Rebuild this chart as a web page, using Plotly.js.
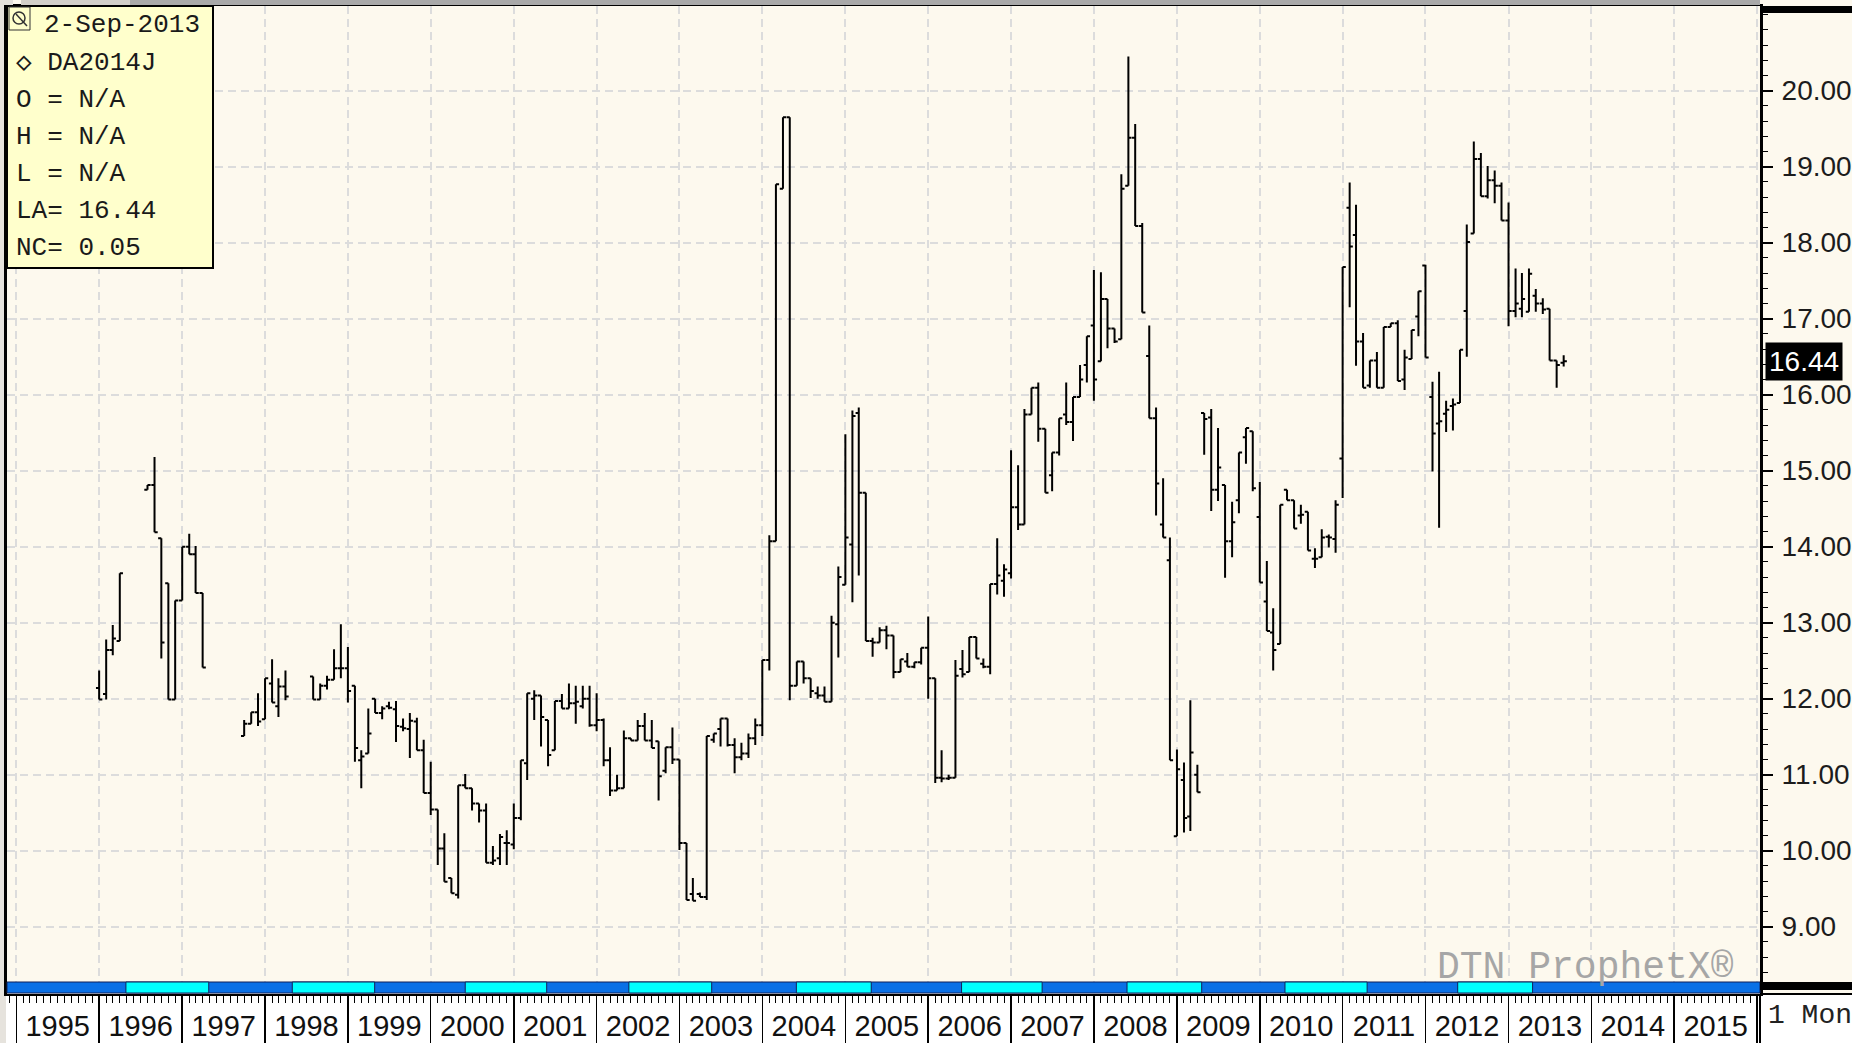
<!DOCTYPE html>
<html><head><meta charset="utf-8">
<script src="https://cdn.plot.ly/plotly-3.0.1.min.js"></script>
<style>html,body{margin:0;padding:0;background:#fff;overflow:hidden}#chart{width:1852px;height:1043px}</style>
</head><body><div id="chart"></div>
<script>
// ---- data (monthly OHLC, DA2014J continuation) ----
const months = [
 '1996-01','1996-02','1996-03','1996-04','1996-08','1996-09','1996-10','1996-11','1996-12',
 '1997-01','1997-02','1997-03','1997-04','1997-10','1997-11','1997-12',
 '1998-01','1998-02','1998-03','1998-04','1998-08','1998-09','1998-10','1998-11','1998-12',
 '1999-01','1999-02','1999-03','1999-04','1999-05','1999-06','1999-07','1999-08','1999-09','1999-10','1999-11','1999-12',
 '2000-01','2000-02','2000-03','2000-04','2000-05','2000-06','2000-07','2000-08','2000-09','2000-10','2000-11','2000-12',
 '2001-01','2001-02','2001-03','2001-04','2001-05','2001-06','2001-07','2001-08','2001-09','2001-10','2001-11','2001-12',
 '2002-01','2002-02','2002-03','2002-04','2002-05','2002-06','2002-07','2002-08','2002-09','2002-10','2002-11','2002-12',
 '2003-01','2003-02','2003-03','2003-04','2003-05','2003-06','2003-07','2003-08','2003-09','2003-10','2003-11','2003-12',
 '2004-01','2004-02','2004-03','2004-04','2004-05','2004-06','2004-07','2004-08','2004-09','2004-10','2004-11','2004-12',
 '2005-01','2005-02','2005-03','2005-04','2005-05','2005-06','2005-07','2005-08','2005-09','2005-10','2005-11','2005-12',
 '2006-01','2006-02','2006-03','2006-04','2006-05','2006-06','2006-07','2006-08','2006-09','2006-10','2006-11','2006-12',
 '2007-01','2007-02','2007-03','2007-04','2007-05','2007-06','2007-07','2007-08','2007-09','2007-10','2007-11','2007-12',
 '2008-01','2008-02','2008-03','2008-04','2008-05','2008-06','2008-07','2008-08','2008-09','2008-10','2008-11','2008-12',
 '2009-01','2009-02','2009-03','2009-04','2009-05','2009-06','2009-07','2009-08','2009-09','2009-10','2009-11','2009-12',
 '2010-01','2010-02','2010-03','2010-04','2010-05','2010-06','2010-07','2010-08','2010-09','2010-10','2010-11','2010-12',
 '2011-01','2011-02','2011-03','2011-04','2011-05','2011-06','2011-07','2011-08','2011-09','2011-10','2011-11','2011-12',
 '2012-01','2012-02','2012-03','2012-04','2012-05','2012-06','2012-07','2012-08','2012-09','2012-10','2012-11','2012-12',
 '2013-01','2013-02','2013-03','2013-04','2013-05','2013-06','2013-07','2013-08','2013-09'
];
const openVals = [
 12.14,12.06,12.64,12.76,14.75,14.81,14.11,13.52,11.99,
 13.29,14.0,13.9,13.39,11.51,11.67,11.82,
 11.73,12.2,11.9,12.16,12.29,11.99,12.17,12.25,12.4,
 12.4,12.17,11.19,11.28,12.0,11.81,11.9,11.86,11.63,11.6,11.7,11.32,
 10.76,10.54,10.03,9.64,9.42,10.86,10.82,10.62,10.53,9.84,9.9,10.1,
 10.08,10.43,11.15,12.0,12.04,11.72,11.32,11.97,11.87,11.94,11.9,12.0,
 11.65,11.72,11.19,10.79,10.82,11.48,11.45,11.64,11.45,11.44,11.05,11.36,
 11.2,10.1,9.43,9.43,9.39,11.46,11.6,11.74,11.39,11.23,11.28,11.48,
 11.65,12.51,14.07,18.71,19.65,12.17,12.49,12.27,12.07,12.04,11.96,12.98,
 13.5,14.03,15.76,14.71,12.76,12.74,12.9,12.83,12.35,12.49,12.42,12.48,
 12.67,12.27,10.96,10.95,10.96,12.39,12.35,12.81,12.46,12.42,13.51,13.55,
 13.65,14.52,14.29,15.74,16.09,15.55,14.94,15.24,15.74,15.64,15.97,16.39,
 16.91,16.44,17.26,16.87,16.73,18.75,19.38,18.22,16.51,15.69,14.29,13.82,
 10.19,10.93,10.45,11.0,15.76,15.7,14.75,14.81,14.07,14.61,15.44,15.52,
 14.39,13.28,12.87,12.72,14.75,14.61,14.41,14.46,13.84,13.86,14.13,14.1,
 15.16,18.46,18.1,16.7,16.12,16.45,16.09,16.89,16.94,16.2,16.47,17.03,
 17.7,15.97,15.62,15.75,15.85,15.89,17.1,18.12,19.1,18.61,18.82,18.75,
 18.29,17.1,17.13,17.09,17.3,17.2,17.13,16.45,16.42
];
const highVals = [
 12.37,12.78,12.97,13.65,14.81,15.18,14.11,13.52,13.29,
 14.0,14.17,14.01,13.39,11.72,11.82,12.07,
 12.27,12.52,12.27,12.37,12.29,12.2,12.3,12.65,12.98,
 12.68,12.17,11.32,11.87,12.0,11.9,11.96,11.97,11.74,11.81,11.75,11.46,
 11.17,10.54,10.23,9.64,10.86,11.01,10.82,10.62,10.62,10.06,10.22,10.27,
 10.62,11.19,12.07,12.11,12.04,11.72,11.97,12.06,12.2,12.17,12.17,12.17,
 12.07,11.74,11.36,11.0,11.58,11.48,11.72,11.81,11.72,11.44,11.36,11.62,
 11.2,10.1,9.64,9.45,11.51,11.54,11.74,11.74,11.48,11.42,11.54,11.74,
 12.51,14.15,18.77,19.65,19.65,12.49,12.49,12.27,12.16,12.16,13.09,13.74,
 15.48,15.79,15.83,14.71,12.8,12.94,12.96,12.83,12.52,12.6,12.48,12.67,
 13.08,12.27,11.32,11.0,12.51,12.64,12.81,12.81,12.53,13.51,14.11,13.77,
 15.27,15.07,15.81,16.09,16.16,15.55,15.24,15.69,16.16,15.97,16.39,16.77,
 17.64,17.61,17.26,16.87,18.9,20.45,19.56,18.26,16.91,15.83,14.9,14.12,
 11.33,11.16,11.98,11.13,15.76,15.81,15.56,14.81,14.59,15.24,15.56,15.52,
 14.85,13.81,13.19,14.55,14.75,14.61,14.55,14.46,13.98,14.23,14.16,14.61,
 17.68,18.79,18.5,16.81,16.45,16.56,16.89,16.94,16.98,16.59,16.85,17.36,
 17.71,16.17,16.3,15.92,15.95,16.59,18.24,19.33,19.18,19.01,18.95,18.79,
 18.53,17.66,17.6,17.66,17.39,17.27,17.13,16.45,16.52
];
const lowVals = [
 11.99,11.99,12.57,12.76,14.75,14.19,12.53,11.99,11.99,
 13.29,13.9,13.39,12.41,11.51,11.67,11.64,
 11.73,11.95,11.76,11.98,11.99,11.99,12.12,12.25,12.27,
 11.95,11.17,10.82,11.28,11.81,11.73,11.86,11.43,11.57,11.22,11.32,10.76,
 10.47,9.81,9.59,9.44,9.37,10.82,10.53,10.37,9.84,9.81,9.81,9.81,
 10.02,10.4,10.93,11.72,11.37,11.11,11.32,11.87,11.87,11.67,11.87,11.63,
 11.57,11.11,10.72,10.79,10.82,11.45,11.45,11.45,11.35,10.66,11.02,11.14,
 10.01,9.35,9.34,9.39,9.35,11.42,11.37,11.37,11.02,11.19,11.22,11.39,
 11.51,12.37,14.07,18.71,11.98,12.17,12.2,12.01,12.0,11.96,11.96,12.54,
 13.5,13.27,13.62,12.76,12.55,12.74,12.65,12.27,12.35,12.42,12.4,12.45,
 12.0,10.89,10.9,10.93,10.96,12.28,12.35,12.53,12.4,12.32,13.37,13.34,
 13.58,14.22,14.29,15.74,15.38,14.71,14.73,15.2,15.6,15.39,15.97,16.16,
 15.92,16.44,16.61,16.68,16.73,18.75,18.22,17.08,15.69,14.41,14.12,11.19,
 10.19,10.24,10.26,10.77,15.21,14.47,14.6,13.59,13.86,14.44,15.09,14.73,
 13.53,12.89,12.37,12.72,14.61,14.24,14.3,13.95,13.72,13.86,13.99,13.92,
 14.64,17.15,16.38,16.09,16.09,16.09,16.09,16.89,16.18,16.06,16.47,16.77,
 16.49,14.99,14.25,15.51,15.53,15.89,16.5,18.12,18.61,18.58,18.52,18.29,
 16.9,17.02,17.02,17.09,17.09,17.06,16.45,16.09,16.37
];
const closeVals = [
 11.99,12.64,12.79,13.65,14.81,14.19,12.74,11.99,13.29,
 14.0,13.9,13.39,12.41,11.67,11.82,11.7,
 12.27,11.95,12.16,12.03,11.99,12.17,12.25,12.4,12.4,
 12.1,11.35,11.24,11.54,11.81,11.87,11.88,11.64,11.61,11.71,11.32,10.76,
 10.54,10.03,9.59,9.44,10.86,10.82,10.62,10.53,9.84,9.87,10.18,10.1,
 10.43,11.19,12.07,12.04,11.76,11.26,11.97,11.87,11.94,11.96,12.0,11.65,
 11.72,11.19,10.79,10.82,11.48,11.45,11.64,11.45,11.35,10.98,11.36,11.2,
 10.1,9.35,9.34,9.39,11.51,11.54,11.74,11.39,11.23,11.28,11.48,11.65,
 12.51,14.07,18.77,19.65,12.17,12.49,12.27,12.1,12.04,11.96,13.0,13.6,
 14.12,15.72,14.71,12.76,12.74,12.9,12.83,12.35,12.52,12.42,12.48,12.67,
 12.27,10.96,10.95,10.96,12.3,12.32,12.81,12.53,12.42,13.51,13.62,13.7,
 14.52,14.29,15.74,16.09,15.55,14.71,15.24,15.69,15.64,15.97,16.2,16.77,
 16.2,17.26,16.87,16.7,18.71,19.38,18.22,17.08,15.69,14.83,14.12,11.19,
 11.07,10.43,11.29,10.77,15.68,14.75,15.04,14.07,14.32,15.24,15.56,14.77,
 13.53,12.89,12.64,14.55,14.61,14.24,14.42,13.95,13.84,14.12,14.12,14.55,
 17.68,17.95,16.7,16.09,16.45,16.09,16.89,16.94,16.18,16.49,16.85,17.36,
 16.49,15.49,15.65,15.8,15.87,16.59,18.01,19.1,18.61,18.82,18.75,18.29,
 17.1,17.2,17.26,17.59,17.2,17.12,16.45,16.39,16.44
];
const priceTicks = [9,10,11,12,13,14,15,16,17,18,19,20];
const contractBandStart = ['1996-04-28','1998-05-01','2000-06-01','2002-05-23','2004-05-30','2006-05-28','2008-05-26','2010-04-22','2012-05-22'];
const contractBandEnd   = ['1997-04-28','1999-04-29','2001-05-26','2003-05-23','2005-04-25','2007-05-18','2009-04-20','2011-04-19','2013-04-17'];
const quoteDate = '2-Sep-2013';
const symbol = 'DA2014J';
const periodLabel = '1 Mon';
const watermark = 'DTN ProphetX\u00AE';

// ---- geometry helpers (pixel layout of the frame) ----
const W = 1852, H = 1043, ML = 7, MR = 92, MT = 6, MB = 49;
const PW = W - ML - MR, PH = H - MT - MB;
const px = x => (x - ML) / PW;          // page px -> paper x
const py = y => (H - MB - y) / PH;      // page px -> paper y

const xDates = months.map(m => m + '-01');
const n = closeVals.length;
const last = closeVals[n - 1], prev = closeVals[n - 2];

const mono = 'Liberation Mono, Courier New, monospace';
const sans = 'Liberation Sans, Arial, sans-serif';

const trace = {
  type: 'ohlc', x: xDates, open: openVals, high: highVals, low: lowVals, close: closeVals,
  increasing: {line: {color: '#000', width: 2}},
  decreasing: {line: {color: '#000', width: 2}},
  tickwidth: 0.5, hoverinfo: 'skip', showlegend: false
};

const shapes = [];
// white label strip below the plot
shapes.push({type:'rect', xref:'paper', yref:'paper', x0:px(0), x1:px(W), y0:py(H), y1:py(994), fillcolor:'#ffffff', line:{width:0}, layer:'below'});
// left window border
shapes.push({type:'rect', xref:'paper', yref:'paper', x0:px(0), x1:px(6), y0:py(H), y1:py(0), fillcolor:'#e6e3dd', line:{width:0}, layer:'below'});
// top strip
shapes.push({type:'rect', xref:'paper', yref:'paper', x0:px(0), x1:px(13), y0:py(5), y1:py(0), fillcolor:'#e3e0da', line:{width:0}});
shapes.push({type:'rect', xref:'paper', yref:'paper', x0:px(21), x1:px(130), y0:py(5), y1:py(0), fillcolor:'#d2cfc9', line:{width:0}});
shapes.push({type:'rect', xref:'paper', yref:'paper', x0:px(130), x1:px(1760), y0:py(5), y1:py(0), fillcolor:'#a9a9a9', line:{width:0}});
// right panel top black bar
shapes.push({type:'rect', xref:'paper', yref:'paper', x0:px(1760), x1:px(W), y0:py(13), y1:py(6), fillcolor:'#000', line:{width:0}});
// blue/cyan contract band
shapes.push({type:'rect', xref:'paper', yref:'paper', x0:0, x1:1, y0:py(993), y1:py(982), fillcolor:'#0a70e6', line:{color:'#10205a', width:1}, layer:'above'});
for (let i = 0; i < contractBandStart.length; i++) {
  shapes.push({type:'rect', xref:'x', yref:'paper', x0:contractBandStart[i], x1:contractBandEnd[i], y0:py(993), y1:py(982), fillcolor:'#00ffff', line:{color:'#10205a', width:1}, layer:'above'});
}
// right of band: black bars
shapes.push({type:'rect', xref:'paper', yref:'paper', x0:px(1760), x1:px(W), y0:py(990), y1:py(982), fillcolor:'#000', line:{width:0}});
shapes.push({type:'rect', xref:'paper', yref:'paper', x0:px(1760), x1:px(W), y0:py(995), y1:py(993), fillcolor:'#000', line:{width:0}});
// separator below right axis
shapes.push({type:'line', xref:'paper', yref:'paper', x0:1, x1:1, y0:py(H), y1:0, line:{color:'#000', width:2}});
// info box
shapes.push({type:'rect', xref:'paper', yref:'paper', x0:px(7), x1:px(213), y0:py(268), y1:py(6), fillcolor:'#ffffcc', line:{color:'#000', width:2}, layer:'above'});
// zoom icon
shapes.push({type:'rect', xref:'paper', yref:'paper', x0:px(9), x1:px(30), y0:py(30), y1:py(7), fillcolor:'rgba(0,0,0,0)', line:{color:'#333', width:1}, layer:'above'});
shapes.push({type:'circle', xref:'paper', yref:'paper', x0:px(13), x1:px(25), y0:py(24), y1:py(12), fillcolor:'rgba(0,0,0,0)', line:{color:'#333', width:1.5}, layer:'above'});
shapes.push({type:'line', xref:'paper', yref:'paper', x0:px(16), x1:px(27), y0:py(14), y1:py(26), line:{color:'#333', width:1.5}, layer:'above'});

const infoLines = [
  '\u25C7 ' + symbol, 'O = N/A', 'H = N/A', 'L = N/A',
  'LA= ' + last.toFixed(2), 'NC= ' + (last - prev).toFixed(2)
];
const annotations = [];
annotations.push({xref:'paper', yref:'paper', x:px(42), y:py(25), xanchor:'left', yanchor:'middle', showarrow:false, text:quoteDate, font:{family:mono, size:26, color:'#1a1a1a'}});
infoLines.forEach((t, i) => {
  annotations.push({xref:'paper', yref:'paper', x:px(14), y:py(63 + 37 * i), xanchor:'left', yanchor:'middle', showarrow:false, text:t, font:{family:mono, size:26, color:'#1a1a1a'}});
});
annotations.push({xref:'paper', yref:'paper', x:px(1736), y:py(967), xanchor:'right', yanchor:'middle', showarrow:false, text:watermark, font:{family:mono, size:38, color:'#a6a6a6'}});
annotations.push({xref:'paper', yref:'y', x:1, xshift:5, y:last, xanchor:'left', yanchor:'middle', showarrow:false, text:last.toFixed(2), bgcolor:'#000', borderpad:3, font:{family:sans, size:28, color:'#fff'}});
annotations.push({xref:'paper', yref:'paper', x:px(1766), y:py(1016), xanchor:'left', yanchor:'middle', showarrow:false, text:periodLabel, font:{family:mono, size:28, color:'#222'}});

const gridStyle = {gridcolor:'#dcdcdc', gridwidth:2, griddash:'8px,5px'};

const layout = {
  width: W, height: H,
  margin: {l: ML, r: MR, t: MT, b: MB, pad: 0},
  paper_bgcolor: '#fdf9ee', plot_bgcolor: '#fdf9ee',
  showlegend: false, hovermode: false, dragmode: false,
  xaxis: Object.assign({
    type: 'date', range: ['1994-11-21', '2016-01-14'], rangeslider: {visible: false},
    tickmode: 'linear', tick0: '1995-01-01', dtick: 'M12', tickformat: '%Y', ticklabelmode: 'period',
    ticks: 'outside', ticklen: 49, tickwidth: 1.5, tickcolor: '#000',
    ticklabelstandoff: -44,
    tickfont: {family: sans, size: 29, color: '#111'},
    minor: {dtick: 'M1', tick0: '1995-01-01', ticks: 'outside', ticklen: 7, tickwidth: 1, tickcolor: '#000', showgrid: false},
    showline: true, linecolor: '#000', linewidth: 2, mirror: true,
    showgrid: true, zeroline: false, fixedrange: true, automargin: false
  }, gridStyle),
  yaxis: Object.assign({
    side: 'right', range: [8.114, 21.114],
    tickmode: 'array', tickvals: priceTicks, ticktext: priceTicks.map(v => v.toFixed(2)),
    ticks: 'outside', ticklen: 10, tickwidth: 2, tickcolor: '#000',
    ticklabelstandoff: 3,
    minor: {tickmode: 'linear', tick0: 0, dtick: 0.2, ticks: 'outside', ticklen: 5, tickwidth: 1, tickcolor: '#000', showgrid: false},
    tickfont: {family: sans, size: 28, color: '#1c1c1c'},
    showline: true, linecolor: '#000', linewidth: 3, mirror: true,
    showgrid: true, zeroline: false, fixedrange: true, automargin: false
  }, gridStyle),
  shapes: shapes,
  annotations: annotations
};

Plotly.newPlot('chart', [trace], layout, {staticPlot: true, displayModeBar: false});
</script>
</body></html>
